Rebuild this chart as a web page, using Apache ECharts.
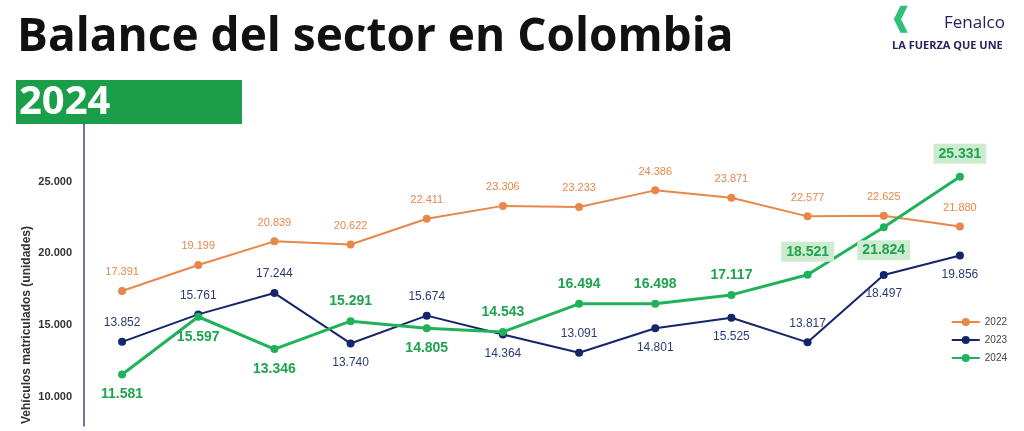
<!DOCTYPE html>
<html>
<head>
<meta charset="utf-8">
<script src="https://cdn.jsdelivr.net/npm/echarts@6/dist/echarts.min.js"></script>
<style>html,body{margin:0;padding:0;background:#fff}#chart{width:1024px;height:431px}</style>
</head>
<body>
<div id="chart"></div>
<script>
var months = ['Ene', 'Feb', 'Mar', 'Abr', 'May', 'Jun', 'Jul', 'Ago', 'Sep', 'Oct', 'Nov', 'Dic'];
var values2022 = [17391, 19199, 20839, 20622, 22411, 23306, 23233, 24386, 23871, 22577, 22625, 21880];
var values2023 = [13852, 15761, 17244, 13740, 15674, 14364, 13091, 14801, 15525, 13817, 18497, 19856];
var values2024 = [11581, 15597, 13346, 15291, 14805, 14543, 16494, 16498, 17117, 18521, 21824, 25331];
var pos2023 = ['top', 'top', 'top', 'bottom', 'top', 'bottom', 'top', 'bottom', 'bottom', 'top', 'bottom', 'bottom'];
var pos2024 = ['bottom', 'bottom', 'bottom', 'top', 'bottom', 'top', 'top', 'top', 'top', 'top', 'bottom', 'top'];
var highlight2024 = [9, 10, 11];

function fmt(v) {
    return String(v).replace(/\B(?=(\d{3})+(?!\d))/g, '.');
}

var data2023 = values2023.map(function(v, i) {
    return {value: v, label: {position: pos2023[i]}};
});
var data2024 = values2024.map(function(v, i) {
    var item = {value: v, label: {position: pos2024[i]}};
    if (highlight2024.indexOf(i) >= 0) {
        item.label.backgroundColor = '#cdeccf';
        item.label.padding = [3, 5];
    }
    return item;
});

var chart = echarts.init(document.getElementById('chart'));
chart.setOption({
    animation: false,
    textStyle: {fontFamily: 'Liberation Sans, Arial, sans-serif'},
    graphic: [
        {type: 'text', left: 17, top: 15, style: {text: 'Balance del sector en Colombia', font: 'bold 46px "Open Sans", sans-serif', fill: '#111'}},
        {type: 'rect', left: 16, top: 80, shape: {width: 226, height: 44}, style: {fill: '#1a9e4a'}},
        {type: 'text', left: 19, top: 83, style: {text: '2024', font: 'bold 40px "Open Sans", sans-serif', fill: '#fff'}},
        {type: 'text', left: 944, top: 15, style: {text: 'Fenalco', font: '17px "Open Sans", sans-serif', fill: '#2a2060'}},
        {type: 'text', left: 890, top: 6, style: {text: '\u2770', font: 'bold 26px sans-serif', fill: '#2fc07a'}},
        {type: 'text', left: 892, top: 40, style: {text: 'LA FUERZA QUE UNE', font: 'bold 11px "Open Sans", sans-serif', fill: '#2a2060'}},
        {type: 'text', x: 27, y: 325, rotation: Math.PI / 2,
         style: {text: 'Vehículos matriculados (unidades)', font: 'bold 12px "Liberation Sans", sans-serif', fill: '#333', align: 'center', verticalAlign: 'middle'}}
    ],
    legend: {
        orient: 'vertical',
        right: 12,
        top: 312,
        itemGap: 8,
        itemWidth: 28,
        itemHeight: 10,
        textStyle: {fontSize: 10, color: '#444'},
        data: ['2022', '2023', '2024']
    },
    grid: {left: 84, top: 124, width: 914, bottom: 5, outerBoundsMode: 'none', containLabel: false},
    xAxis: {
        type: 'category',
        data: months,
        axisLine: {show: false},
        axisTick: {show: false},
        axisLabel: {show: false}
    },
    yAxis: {
        type: 'value',
        min: 8000,
        max: 29000,
        interval: 1000,
        axisLine: {show: true, lineStyle: {color: '#3b4a8a', width: 1.5}},
        axisTick: {show: false},
        splitLine: {show: false},
        axisLabel: {
            fontSize: 11,
            fontWeight: 'bold',
            color: '#333',
            margin: 12,
            formatter: function(v) { return v % 5000 === 0 ? fmt(v) : ''; }
        }
    },
    series: [
        {
            name: '2022', type: 'line', data: values2022,
            symbol: 'circle', symbolSize: 8,
            itemStyle: {color: '#e8874a'}, lineStyle: {width: 2},
            label: {show: true, position: 'top', distance: 9, color: '#e8874a', fontSize: 11, formatter: function(p) { return fmt(p.value); }}
        },
        {
            name: '2023', type: 'line', data: data2023,
            symbol: 'circle', symbolSize: 8,
            itemStyle: {color: '#15256b'}, lineStyle: {width: 2},
            label: {show: true, distance: 9, color: '#2c3a78', fontSize: 12, formatter: function(p) { return fmt(p.value); }}
        },
        {
            name: '2024', type: 'line', data: data2024,
            symbol: 'circle', symbolSize: 8,
            itemStyle: {color: '#1fb25a'}, lineStyle: {width: 3},
            label: {show: true, distance: 9, color: '#1ea34f', fontSize: 14, fontWeight: 'bold', formatter: function(p) { return fmt(p.value); }}
        }
    ]
});
</script>
</body>
</html>
